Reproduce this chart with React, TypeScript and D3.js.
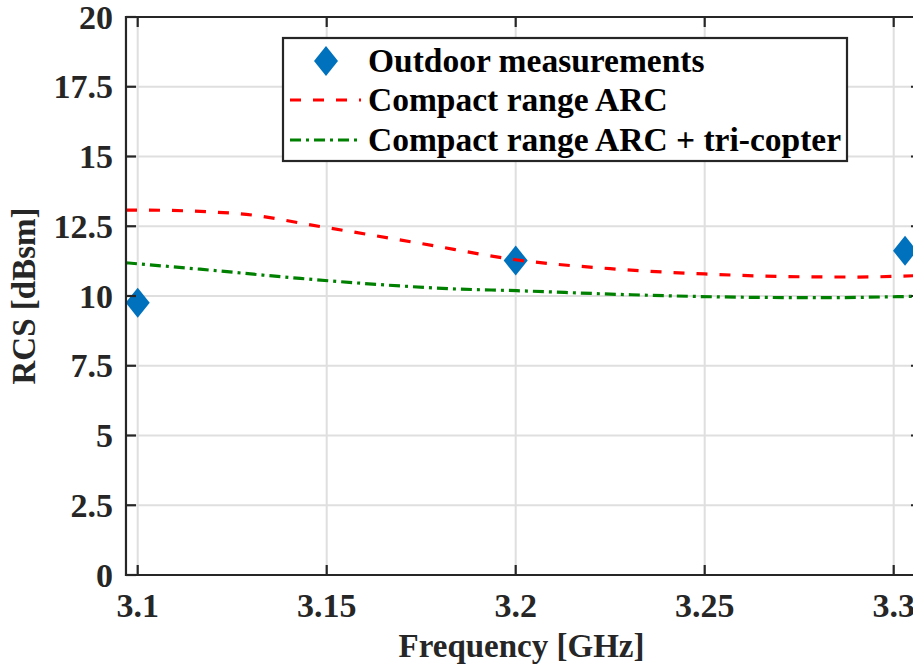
import React from "react";
import * as d3 from "d3";

const measFreq = [3.1, 3.2, 3.303];
const measRcs = [9.76, 11.27, 11.62];

const arcFreq = [3.0969, 3.1, 3.125, 3.15, 3.175, 3.2, 3.225, 3.25, 3.275, 3.29, 3.306];
const arcRcs = [13.08, 13.08, 12.97, 12.45, 11.88, 11.3, 10.98, 10.79, 10.69, 10.68, 10.73];

const triFreq = [3.0969, 3.1165, 3.143, 3.1694, 3.1826, 3.2003, 3.2268, 3.2532, 3.2797, 3.306];
const triRcs = [11.19, 10.96, 10.63, 10.36, 10.26, 10.19, 10.06, 9.97, 9.94, 9.99];

const xTicks = [3.1, 3.15, 3.2, 3.25, 3.3];
const xTickLabels = ["3.1", "3.15", "3.2", "3.25", "3.3"];
const yTicks = [0, 2.5, 5, 7.5, 10, 12.5, 15, 17.5, 20];
const yTickLabels = ["0", "2.5", "5", "7.5", "10", "12.5", "15", "17.5", "20"];

const legendLabels = ["Outdoor measurements", "Compact range ARC", "Compact range ARC + tri-copter"];

const W = 913;
const H = 665;
const FONT = "'Times New Roman', serif";
const txt = { fontFamily: FONT, fontWeight: 700 as const };

export default function App() {
  const x = d3.scaleLinear().domain([3.1, 3.3]).range([137.7, 893.7]);
  const y = d3.scaleLinear().domain([0, 20]).range([575, 17]);
  const left = x(3.0969);
  const right = 921;
  const top = y(20);
  const bottom = y(0);

  const line = d3
    .line<[number, number]>()
    .x((d) => x(d[0]))
    .y((d) => y(d[1]))
    .curve(d3.curveMonotoneX);

  const arcPts = arcFreq.map((f, i) => [f, arcRcs[i]] as [number, number]);
  const triPts = triFreq.map((f, i) => [f, triRcs[i]] as [number, number]);

  const diamond = (cx: number, cy: number) =>
    `M${cx},${cy - 15}L${cx + 12},${cy}L${cx},${cy + 15}L${cx - 12},${cy}Z`;

  const axisColor = "#262626";
  const gridColor = "#dfdfdf";
  const tickLen = 10;

  const legX = 283;
  const legY = 38;
  const legW = 564;
  const legH = 123;
  const rows = [61, 100, 140];

  return (
    <div style={{ position: "fixed", left: 0, top: 0, width: W, height: H, background: "#fff" }}>
      <svg width={W} height={H} style={{ display: "block" }}>
        <defs>
          <clipPath id="plotclip">
            <rect x={left} y={top} width={right - left} height={bottom - top} />
          </clipPath>
        </defs>
        <rect x={0} y={0} width={W} height={H} fill="#fff" />
        {/* grid */}
        <g stroke={gridColor} strokeWidth={2}>
          {xTicks.map((t) => (
            <line key={"gx" + t} x1={x(t)} x2={x(t)} y1={top} y2={bottom} />
          ))}
          {yTicks.map((t) => (
            <line key={"gy" + t} x1={left} x2={right} y1={y(t)} y2={y(t)} />
          ))}
        </g>
        {/* data */}
        <g clipPath="url(#plotclip)">
          {measFreq.map((f, i) => (
            <path key={"m" + i} d={diamond(x(f), y(measRcs[i]))} fill="#0072BD" />
          ))}
          <path d={line(arcPts) || ""} fill="none" stroke="#ff0000" strokeWidth={3.2} strokeDasharray="11,12" />
          <path d={line(triPts) || ""} fill="none" stroke="#008000" strokeWidth={3.2} strokeDasharray="11,5,3,5" />
        </g>
        {/* axes */}
        <g stroke={axisColor} strokeWidth={2.2} fill="none">
          <line x1={left} x2={left} y1={top - 1} y2={bottom + 1} />
          <line x1={left - 1} x2={right} y1={bottom} y2={bottom} />
          <line x1={left - 1} x2={right} y1={top} y2={top} />
          <line x1={right} x2={right} y1={top} y2={bottom} />
          {yTicks.map((t) => (
            <g key={"ty" + t}>
              <line x1={left} x2={left + tickLen} y1={y(t)} y2={y(t)} />
              <line x1={right} x2={right - tickLen} y1={y(t)} y2={y(t)} />
            </g>
          ))}
          {xTicks.map((t) => (
            <g key={"tx" + t}>
              <line x1={x(t)} x2={x(t)} y1={bottom} y2={bottom - tickLen} />
              <line x1={x(t)} x2={x(t)} y1={top} y2={top + tickLen} />
            </g>
          ))}
        </g>
        {/* tick labels */}
        <g fill={axisColor} fontSize={34}>
          {yTicks.map((t, i) => (
            <text key={"ly" + t} x={113} y={y(t) + 11.5} textAnchor="end" style={txt}>
              {yTickLabels[i]}
            </text>
          ))}
          {xTicks.map((t, i) => (
            <text key={"lx" + t} x={x(t)} y={617} textAnchor="middle" style={txt}>
              {xTickLabels[i]}
            </text>
          ))}
        </g>
        {/* axis labels */}
        <text x={521.5} y={657} textAnchor="middle" fontSize={33} fill={axisColor} style={txt}>
          Frequency [GHz]
        </text>
        <text
          transform={`translate(35,296) rotate(-90)`}
          textAnchor="middle"
          fontSize={33}
          fill={axisColor}
          style={txt}
        >
          RCS [dBsm]
        </text>
        {/* legend */}
        <rect x={legX} y={legY} width={legW} height={legH} fill="#fff" stroke={axisColor} strokeWidth={2.2} />
        <path d={diamond(326, rows[0])} fill="#0072BD" />
        <line x1={290} x2={361} y1={rows[1]} y2={rows[1]} stroke="#ff0000" strokeWidth={3.2} strokeDasharray="11,12" />
        <line x1={290} x2={361} y1={rows[2]} y2={rows[2]} stroke="#008000" strokeWidth={3.2} strokeDasharray="11,5,3,5" />
        <g fontSize={33.5} fill="#000">
          {legendLabels.map((l, i) => (
            <text key={l} x={368} y={rows[i] + 10.5} style={txt}>
              {l}
            </text>
          ))}
        </g>
      </svg>
    </div>
  );
}
